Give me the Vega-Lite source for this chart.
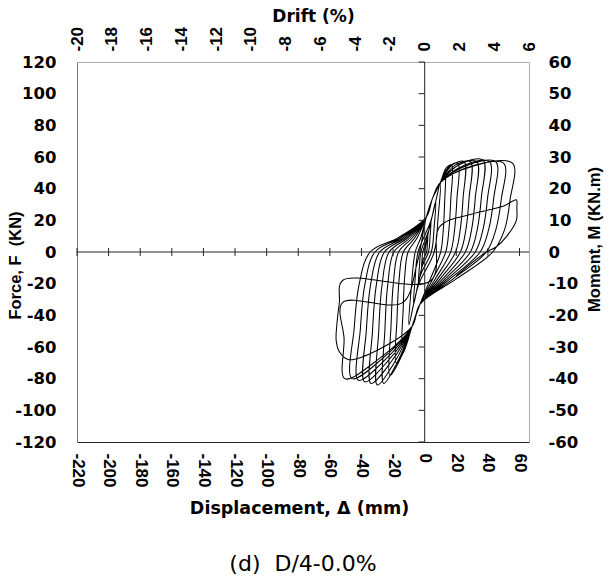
{
  "$schema": "https://vega.github.io/schema/vega-lite/v6.json",
  "width": 452,
  "height": 380,
  "autosize": "none",
  "padding": {"left": 77, "top": 62, "right": 84, "bottom": 144},
  "background": "white",
  "config": {
    "view": {"stroke": null},
    "axis": {"grid": false, "ticks": false, "tickSize": 0, "labelColor": "#000", "titleColor": "#000", "labelOverlap": false}
  },
  "title": {"text": "(d)\u00a0 D/4-0.0%", "orient": "bottom", "anchor": "middle", "font": "DejaVu Sans", "fontSize": 22, "fontWeight": "normal", "color": "#000", "offset": 37},
  "datasets": {
    "loops": [
      {"o":1,"d":0,"f":0},{"o":2,"d":0.8,"f":4.5},{"o":3,"d":2,"f":10},{"o":4,"d":1.7,"f":5},{"o":5,"d":1.2,"f":0},{"o":6,"d":-0.8,"f":-4.5},{"o":7,"d":-2,"f":-10},{"o":8,"d":-1.7,"f":-5},{"o":9,"d":-1.2,"f":0},
      {"o":10,"d":1.6,"f":9},{"o":11,"d":4,"f":20},{"o":12,"d":3.4,"f":10},{"o":13,"d":2.4,"f":0},{"o":14,"d":-1.6,"f":-9},{"o":15,"d":-4,"f":-20},{"o":16,"d":-3.4,"f":-10},{"o":17,"d":-2.4,"f":0},
      {"o":18,"d":2.8,"f":14.4},{"o":19,"d":7,"f":32},{"o":20,"d":6,"f":16},{"o":21,"d":4.2,"f":0},{"o":22,"d":-2.8,"f":-15},{"o":23,"d":-7,"f":-33},{"o":24,"d":-6,"f":-16.5},{"o":25,"d":-4.2,"f":0},
      {"o":26,"d":4,"f":20},{"o":27,"d":10,"f":44},{"o":28,"d":8.5,"f":22},{"o":29,"d":6,"f":0},{"o":30,"d":-4,"f":-21},{"o":31,"d":-10,"f":-46},{"o":32,"d":-8.5,"f":-23},{"o":33,"d":-6,"f":0},
      {"o":34,"d":-2.5,"f":9},{"o":35,"d":1,"f":22},{"o":36,"d":5,"f":34},{"o":37,"d":10,"f":44},{"o":38,"d":13,"f":52},{"o":39,"d":12.6,"f":31},{"o":40,"d":11.7,"f":13},{"o":41,"d":10.1,"f":0},{"o":42,"d":3.6,"f":-17},{"o":43,"d":-3,"f":-33},{"o":44,"d":-8,"f":-47},{"o":45,"d":-14,"f":-60},{"o":46,"d":-13.6,"f":-36},{"o":47,"d":-12.6,"f":-15},{"o":48,"d":-10.5,"f":0},
      {"o":49,"d":-4.75,"f":9},{"o":50,"d":1,"f":22},{"o":51,"d":5,"f":34},{"o":52,"d":10,"f":44},{"o":53,"d":13.5,"f":53},{"o":54,"d":17,"f":55},{"o":55,"d":16.5,"f":33},{"o":56,"d":15.3,"f":13.8},{"o":57,"d":13.3,"f":0},{"o":58,"d":5.1,"f":-17},{"o":59,"d":-3,"f":-33},{"o":60,"d":-8,"f":-47},{"o":61,"d":-13,"f":-62.5},{"o":62,"d":-18,"f":-70},{"o":63,"d":-17.5,"f":-42},{"o":64,"d":-16.2,"f":-17.5},{"o":65,"d":-13.5,"f":0},
      {"o":66,"d":-6.25,"f":9},{"o":67,"d":1,"f":22},{"o":68,"d":5,"f":34},{"o":69,"d":10,"f":44},{"o":70,"d":15.5,"f":54},{"o":71,"d":21,"f":56},{"o":72,"d":20.4,"f":33.6},{"o":73,"d":18.9,"f":14},{"o":74,"d":16.4,"f":0},{"o":75,"d":6.7,"f":-17},{"o":76,"d":-3,"f":-33},{"o":77,"d":-8,"f":-47},{"o":78,"d":-15,"f":-66.5},{"o":79,"d":-22,"f":-78},{"o":80,"d":-21.3,"f":-46.8},{"o":81,"d":-19.8,"f":-19.5},{"o":82,"d":-16.5,"f":0},
      {"o":83,"d":-7.75,"f":9},{"o":84,"d":1,"f":22},{"o":85,"d":5,"f":34},{"o":86,"d":10,"f":44},{"o":87,"d":17.5,"f":55},{"o":88,"d":25,"f":57},{"o":89,"d":24.3,"f":34.2},{"o":90,"d":22.5,"f":14.3},{"o":91,"d":19.5,"f":0},{"o":92,"d":8.25,"f":-17},{"o":93,"d":-3,"f":-33},{"o":94,"d":-8,"f":-47},{"o":95,"d":-17,"f":-69},{"o":96,"d":-26,"f":-83},{"o":97,"d":-25.2,"f":-49.8},{"o":98,"d":-23.4,"f":-20.8},{"o":99,"d":-19.5,"f":0},
      {"o":100,"d":-9.25,"f":9},{"o":101,"d":1,"f":22},{"o":102,"d":5,"f":34},{"o":103,"d":10,"f":44},{"o":104,"d":19.5,"f":55},{"o":105,"d":29,"f":57},{"o":106,"d":28.1,"f":34.2},{"o":107,"d":26.1,"f":14.3},{"o":108,"d":22.6,"f":0},{"o":109,"d":9.8,"f":-17},{"o":110,"d":-3,"f":-33},{"o":111,"d":-8,"f":-47},{"o":112,"d":-19,"f":-69.5},{"o":113,"d":-30,"f":-84},{"o":114,"d":-29.1,"f":-50.4},{"o":115,"d":-27,"f":-21},{"o":116,"d":-22.5,"f":0},
      {"o":117,"d":-10.75,"f":9},{"o":118,"d":1,"f":22},{"o":119,"d":5,"f":34},{"o":120,"d":10,"f":44},{"o":121,"d":21.5,"f":55},{"o":122,"d":33,"f":57},{"o":123,"d":32,"f":34.2},{"o":124,"d":29.7,"f":14.3},{"o":125,"d":25.7,"f":0},{"o":126,"d":11.4,"f":-17},{"o":127,"d":-3,"f":-33},{"o":128,"d":-8,"f":-47},{"o":129,"d":-21,"f":-69},{"o":130,"d":-34,"f":-83},{"o":131,"d":-33,"f":-49.8},{"o":132,"d":-30.6,"f":-20.8},{"o":133,"d":-25.5,"f":0},
      {"o":134,"d":-12.25,"f":9},{"o":135,"d":1,"f":22},{"o":136,"d":5,"f":34},{"o":137,"d":10,"f":44},{"o":138,"d":23.5,"f":56},{"o":139,"d":37,"f":58},{"o":140,"d":35.9,"f":34.8},{"o":141,"d":33.3,"f":14.5},{"o":142,"d":28.9,"f":0},{"o":143,"d":13,"f":-17},{"o":144,"d":-3,"f":-33},{"o":145,"d":-8,"f":-47},{"o":146,"d":-23,"f":-68.5},{"o":147,"d":-38,"f":-82},{"o":148,"d":-36.9,"f":-49.2},{"o":149,"d":-34.2,"f":-20.5},{"o":150,"d":-28.5,"f":0},
      {"o":151,"d":-13.75,"f":9},{"o":152,"d":1,"f":22},{"o":153,"d":5,"f":34},{"o":154,"d":10,"f":44},{"o":155,"d":25.5,"f":55},{"o":156,"d":41,"f":57},{"o":157,"d":39.8,"f":34.2},{"o":158,"d":36.9,"f":14.3},{"o":159,"d":32,"f":0},{"o":160,"d":14.5,"f":-17},{"o":161,"d":-3,"f":-33},{"o":162,"d":-8,"f":-47},{"o":163,"d":-25,"f":-68},{"o":164,"d":-42,"f":-81},{"o":165,"d":-40.7,"f":-48.6},{"o":166,"d":-37.8,"f":-20.3},{"o":167,"d":-31.5,"f":0},
      {"o":168,"d":-15.25,"f":9},{"o":169,"d":1,"f":22},{"o":170,"d":5,"f":34},{"o":171,"d":10,"f":44},{"o":172,"d":27.5,"f":55},{"o":173,"d":45,"f":57},{"o":174,"d":43.7,"f":34.2},{"o":175,"d":40.5,"f":14.3},{"o":176,"d":35.1,"f":0},{"o":177,"d":16,"f":-17},{"o":178,"d":-3,"f":-33},{"o":179,"d":-8,"f":-47},{"o":180,"d":-27,"f":-67.5},{"o":181,"d":-46,"f":-80},{"o":182,"d":-44.6,"f":-48},{"o":183,"d":-41.4,"f":-20},{"o":184,"d":-34.5,"f":0},
      {"o":185,"d":-16.75,"f":9},{"o":186,"d":1,"f":22},{"o":187,"d":5,"f":34},{"o":188,"d":10,"f":44},{"o":189,"d":30,"f":54},{"o":190,"d":50,"f":56},{"o":191,"d":48.5,"f":33.6},{"o":192,"d":45,"f":14},{"o":193,"d":39,"f":0},{"o":194,"d":18,"f":-17},{"o":195,"d":-3,"f":-33},{"o":196,"d":-8,"f":-47},{"o":197,"d":-29,"f":-67.5},{"o":198,"d":-50.6,"f":-80},{"o":199,"d":-51,"f":-55},{"o":200,"d":-52,"f":-32},{"o":201,"d":-14,"f":-32},{"o":202,"d":-5,"f":-8},
      {"o":203,"d":1,"f":22},{"o":204,"d":5,"f":34},{"o":205,"d":10,"f":44},{"o":206,"d":32,"f":55},{"o":207,"d":55.7,"f":56},{"o":208,"d":54,"f":33},{"o":209,"d":50.5,"f":14},{"o":210,"d":43,"f":0},{"o":211,"d":20,"f":-17},{"o":212,"d":-3,"f":-33},{"o":213,"d":-8,"f":-47},{"o":214,"d":-30,"f":-62},{"o":215,"d":-48,"f":-68},{"o":216,"d":-54,"f":-63},{"o":217,"d":-56,"f":-56},{"o":218,"d":-55.5,"f":-45},{"o":219,"d":-54,"f":-32},{"o":220,"d":-52,"f":-18},{"o":221,"d":4,"f":-18},
      {"o":222,"d":9.5,"f":16},{"o":223,"d":30,"f":24},{"o":224,"d":50,"f":29},{"o":225,"d":58,"f":33},{"o":226,"d":58.3,"f":28},{"o":227,"d":58,"f":20},{"o":228,"d":52,"f":10},{"o":229,"d":45,"f":3},{"o":230,"d":39,"f":0},{"o":231,"d":20,"f":-15}
    ],
    "xt": [{"v":-220},{"v":-200},{"v":-180},{"v":-160},{"v":-140},{"v":-120},{"v":-100},{"v":-80},{"v":-60},{"v":-40},{"v":-20},{"v":0},{"v":20},{"v":40},{"v":60}],
    "yt": [{"v":-120},{"v":-100},{"v":-80},{"v":-60},{"v":-40},{"v":-20},{"v":0},{"v":20},{"v":40},{"v":60},{"v":80},{"v":100},{"v":120}],
    "zero": [{"v":0}]
  },
  "layer": [
    {
      "layer": [
        {
          "data": {"name": "loops"},
          "mark": {"type": "line", "color": "#000", "strokeWidth": 1.05, "strokeJoin": "round", "interpolate": "catmull-rom"},
          "encoding": {
            "x": {"field": "d", "type": "quantitative",
              "scale": {"domain": [-220, 66], "nice": false, "zero": false},
              "axis": {"orient": "bottom", "values": [-220,-200,-180,-160,-140,-120,-100,-80,-60,-40,-20,0,20,40,60], "labelOverlap": false, "labelExpr": "'' + datum.value",
                "title": "Displacement, Δ (mm)", "labelAngle": 90, "labelFont": "Liberation Sans", "labelFontSize": 17, "labelFontWeight": "bold", "labelPadding": 11,
                "domainColor": "#222", "domainWidth": 1.2,
                "titleFont": "DejaVu Sans", "titleFontSize": 17.5, "titleFontWeight": "bold", "titleX": 222, "titleY": 71, "titleBaseline": "alphabetic"}},
            "y": {"field": "f", "type": "quantitative",
              "scale": {"domain": [-120, 120], "nice": false, "zero": false},
              "axis": {"orient": "left", "values": [-120,-100,-80,-60,-40,-20,0,20,40,60,80,100,120], "labelOverlap": false, "labelExpr": "'' + datum.value",
                "title": "Force, F\u00a0 (KN)", "labelFont": "DejaVu Sans", "labelFontSize": 16.5, "labelFontWeight": "bold", "labelPadding": 21,
                "domainColor": "#777",
                "titleFont": "Liberation Sans", "titleFontSize": 16.5, "titleFontWeight": "bold", "titleX": -62, "titleY": 203, "titleAngle": -90, "titleBaseline": "middle"}},
            "order": {"field": "o", "type": "quantitative"}
          }
        },
        {
          "data": {"name": "xt"},
          "mark": {"type": "rule", "color": "#222"},
          "encoding": {
            "x": {"field": "v", "type": "quantitative",
              "axis": {"orient": "bottom", "values": [-220,-200,-180,-160,-140,-120,-100,-80,-60,-40,-20,0,20,40,60], "labelOverlap": false, "labelExpr": "'' + datum.value",
                "title": "Displacement, Δ (mm)", "labelAngle": 90, "labelFont": "Liberation Sans", "labelFontSize": 17, "labelFontWeight": "bold", "labelPadding": 11,
                "domainColor": "#222", "domainWidth": 1.2,
                "titleFont": "DejaVu Sans", "titleFontSize": 17.5, "titleFontWeight": "bold", "titleX": 222, "titleY": 71, "titleBaseline": "alphabetic"}},
            "y": {"datum": -2.5,
              "axis": {"orient": "left", "values": [-120,-100,-80,-60,-40,-20,0,20,40,60,80,100,120], "labelOverlap": false, "labelExpr": "'' + datum.value",
                "title": "Force, F\u00a0 (KN)", "labelFont": "DejaVu Sans", "labelFontSize": 16.5, "labelFontWeight": "bold", "labelPadding": 21,
                "domainColor": "#777",
                "titleFont": "Liberation Sans", "titleFontSize": 16.5, "titleFontWeight": "bold", "titleX": -62, "titleY": 203, "titleAngle": -90, "titleBaseline": "middle"}},
            "y2": {"datum": 2.5}
          }
        },
        {
          "data": {"name": "yt"},
          "mark": {"type": "rule", "color": "#222"},
          "encoding": {
            "y": {"field": "v", "type": "quantitative",
              "axis": {"orient": "left", "values": [-120,-100,-80,-60,-40,-20,0,20,40,60,80,100,120], "labelOverlap": false, "labelExpr": "'' + datum.value",
                "title": "Force, F\u00a0 (KN)", "labelFont": "DejaVu Sans", "labelFontSize": 16.5, "labelFontWeight": "bold", "labelPadding": 21,
                "domainColor": "#777",
                "titleFont": "Liberation Sans", "titleFontSize": 16.5, "titleFontWeight": "bold", "titleX": -62, "titleY": 203, "titleAngle": -90, "titleBaseline": "middle"}},
            "x": {"datum": -3.8,
              "axis": {"orient": "bottom", "values": [-220,-200,-180,-160,-140,-120,-100,-80,-60,-40,-20,0,20,40,60], "labelOverlap": false, "labelExpr": "'' + datum.value",
                "title": "Displacement, Δ (mm)", "labelAngle": 90, "labelFont": "Liberation Sans", "labelFontSize": 17, "labelFontWeight": "bold", "labelPadding": 11,
                "domainColor": "#222", "domainWidth": 1.2,
                "titleFont": "DejaVu Sans", "titleFontSize": 17.5, "titleFontWeight": "bold", "titleX": 222, "titleY": 71, "titleBaseline": "alphabetic"}},
            "x2": {"datum": 0}
          }
        }
      ]
    },
    {
      "data": {"name": "zero"},
      "layer": [
        {
          "mark": {"type": "rule", "color": "#222"},
          "encoding": {
            "x": {"field": "v", "type": "quantitative",
              "scale": {"domain": [-20, 6], "nice": false, "zero": false},
              "axis": {"orient": "top", "values": [-20,-18,-16,-14,-12,-10,-8,-6,-4,-2,0,2,4,6], "labelOverlap": false, "labelExpr": "'' + datum.value",
                "title": "Drift (%)", "labelAngle": -90, "labelFont": "Liberation Sans", "labelFontSize": 17, "labelFontWeight": "bold", "labelPadding": 11,
                "domainColor": "#aaa",
                "titleFont": "DejaVu Sans", "titleFontSize": 17, "titleFontWeight": "bold", "titleX": 236, "titleY": -41, "titleBaseline": "alphabetic"}}
          }
        },
        {
          "mark": {"type": "rule", "color": "#222"},
          "encoding": {
            "y": {"field": "v", "type": "quantitative",
              "scale": {"domain": [-60, 60], "nice": false, "zero": false},
              "axis": {"orient": "right", "values": [-60,-50,-40,-30,-20,-10,0,10,20,30,40,50,60], "labelOverlap": false, "labelExpr": "'' + datum.value",
                "title": "Moment, M (KN.m)", "labelFont": "DejaVu Sans", "labelFontSize": 16.5, "labelFontWeight": "bold", "labelPadding": 19,
                "domainColor": "#aaa",
                "titleFont": "Liberation Sans", "titleFontSize": 16.5, "titleFontWeight": "bold", "titleX": 65, "titleY": 177, "titleAngle": -90, "titleBaseline": "middle"}}
          }
        }
      ]
    }
  ],
  "resolve": {"scale": {"x": "independent", "y": "independent"}, "axis": {"x": "independent", "y": "independent"}}
}
